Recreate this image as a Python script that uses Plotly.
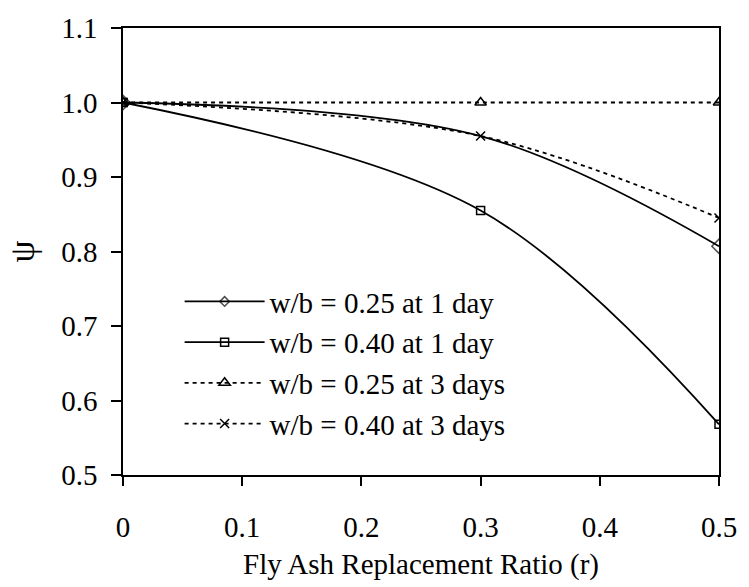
import plotly.graph_objects as go

# Fly ash replacement ratio (x) and strength ratio psi (y) for each mix
r = [0, 0.3, 0.5]
psi_025_1d = [1.0, 0.955, 0.807]
psi_040_1d = [1.0, 0.855, 0.568]
psi_025_3d = [1.0, 1.0, 1.0]
psi_040_3d = [1.0, 0.955, 0.845]

series_names = [
    "w/b = 0.25 at 1 day",
    "w/b = 0.40 at 1 day",
    "w/b = 0.25 at 3 days",
    "w/b = 0.40 at 3 days",
]

x_ticks = [0, 0.1, 0.2, 0.3, 0.4, 0.5]
x_tick_text = ["0", "0.1", "0.2", "0.3", "0.4", "0.5"]
y_ticks = [0.5, 0.6, 0.7, 0.8, 0.9, 1.0, 1.1]
y_tick_text = ["0.5", "0.6", "0.7", "0.8", "0.9", "1.0", "1.1"]

FONT = "Liberation Serif"
BLACK = "#000000"
DOTS = "4px,4px"

fig = go.Figure()

# (values, dash, marker symbol, marker sizes per point)
styles = [
    (psi_025_1d, "solid", "diamond-open", [11, 0, 11]),
    (psi_040_1d, "solid", "square-open", 8),
    (psi_025_3d, DOTS, "triangle-up-open", 10),
    (psi_040_3d, DOTS, "x-thin-open", 9),
]

for i, (name, (ys, dash, sym, size)) in enumerate(zip(series_names, styles)):
    fig.add_trace(go.Scatter(
        x=r, y=ys, name=name, mode="lines+markers",
        legendgroup=f"g{i}",
        line=dict(color=BLACK, width=1.8, dash=dash, shape="spline", smoothing=1),
        marker=dict(symbol=sym, size=size, color=BLACK,
                    line=dict(color=BLACK, width=1.5)),
    ))

fig.update_layout(
    width=749, height=587,
    margin=dict(l=123, r=19, t=21, b=106),
    paper_bgcolor="white", plot_bgcolor="white",
    font=dict(family=FONT, size=29, color=BLACK),
    showlegend=True,
    legend=dict(
        x=0.095, y=0.445, xanchor="left", yanchor="top",
        bgcolor="rgba(0,0,0,0)", borderwidth=0,
        font=dict(family=FONT, size=29, color=BLACK),
        itemwidth=80, tracegroupgap=0,
    ),
    xaxis=dict(
        range=[0, 0.5], tickvals=x_ticks, ticktext=x_tick_text,
        ticks="outside", ticklen=9, tickwidth=1.5, tickcolor=BLACK,
        showline=True, linecolor=BLACK, linewidth=1.5, mirror=True,
        showgrid=False, zeroline=False,
        title=dict(text="Fly Ash Replacement Ratio (r)", standoff=12,
                   font=dict(size=29)),
        ticklabelstandoff=16,
    ),
    yaxis=dict(
        range=[0.5, 1.1], tickvals=y_ticks, ticktext=y_tick_text,
        ticks="outside", ticklen=10, tickwidth=1.5, tickcolor=BLACK,
        showline=True, linecolor=BLACK, linewidth=1.5, mirror=True,
        showgrid=False, zeroline=False,
        title=dict(text="ψ", standoff=16),
        ticklabelstandoff=8,
    ),
)

fig.write_html("out.html")
